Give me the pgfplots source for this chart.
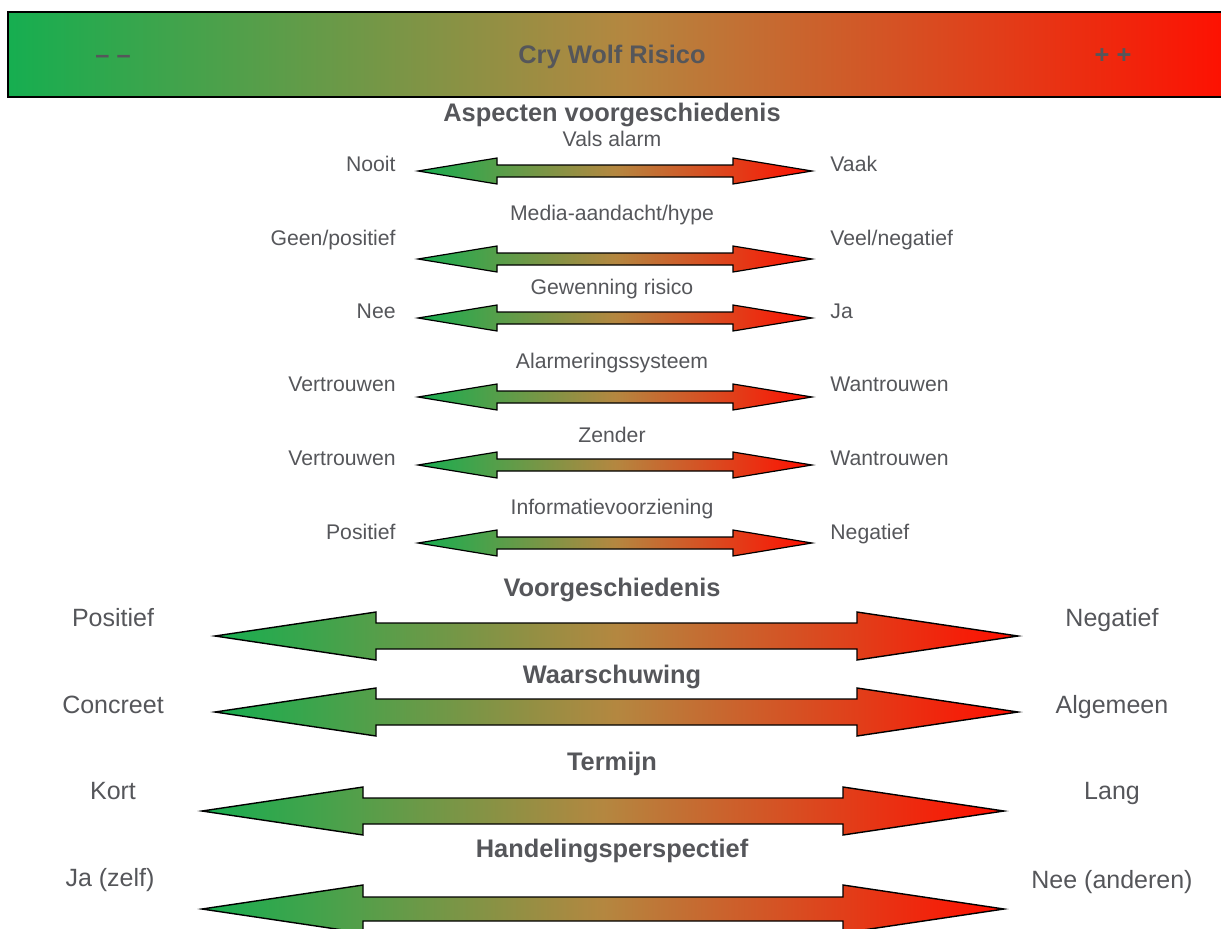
\documentclass[border=0pt]{standalone}
\usepackage{pgfplots}
\pgfplotsset{compat=1.18}
\usepackage{fontspec}
\setmainfont{Liberation Sans}
\definecolor{tg}{RGB}{85,86,90}
\definecolor{gL}{RGB}{22,174,80}
\definecolor{gM}{RGB}{180,135,64}
\definecolor{gR}{RGB}{255,14,0}
\begin{document}
\begin{tikzpicture}
\useasboundingbox (0,0) rectangle (610.5pt,464pt);
\begin{axis}[
  at={(0,0)}, anchor=south west,
  scale only axis, width=610.5pt, height=464pt,
  xmin=0, xmax=1221, ymin=0, ymax=928, y dir=reverse,
  hide axis, clip=true,
]
% banner
\addplot[draw=black, line width=1.4pt, left color=gL, right color=gR, middle color=gM, mark=none]
  coordinates {(8,12) (1240,12) (1240,97) (8,97)} -- cycle;
% small arrows: y centres
\foreach \yc in {171,259,318,397,465,543}{
\edef\temp{\noexpand\addplot[draw=black, line width=0.6pt, left color=gL, right color=gR, middle color=gM, mark=none]
  coordinates {(418,\yc) (497,\yc-13) (497,\yc-6) (733,\yc-6) (733,\yc-13) (812,\yc) (733,\yc+13) (733,\yc+6) (497,\yc+6) (497,\yc+13)} -- cycle;}
\temp
}
% big arrows
\addplot[draw=black, line width=0.7pt, left color=gL, right color=gR, middle color=gM, mark=none]
  coordinates {(215,636) (376,612) (376,623) (857,623) (857,612) (1018,636) (857,660) (857,649) (376,649) (376,660)} -- cycle;
\addplot[draw=black, line width=0.7pt, left color=gL, right color=gR, middle color=gM, mark=none]
  coordinates {(215,712) (376,688) (376,699) (857,699) (857,688) (1018,712) (857,736) (857,725) (376,725) (376,736)} -- cycle;
\addplot[draw=black, line width=0.7pt, left color=gL, right color=gR, middle color=gM, mark=none]
  coordinates {(202,811) (363,787) (363,798) (843,798) (843,787) (1004,811) (843,835) (843,824) (363,824) (363,835)} -- cycle;
\addplot[draw=black, line width=0.7pt, left color=gL, right color=gR, middle color=gM, mark=none]
  coordinates {(202,909) (363,885) (363,897) (843,897) (843,885) (1004,909) (843,933) (843,921) (363,921) (363,933)} -- cycle;
% banner text
\tikzset{hd/.style={text=tg, font=\fontsize{12.7}{14}\selectfont\bfseries, inner sep=0pt, anchor=mid}}
\node[hd] at (axis cs:113,58) {– –};
\node[hd] at (axis cs:612,58) {Cry Wolf Risico};
\node[hd] at (axis cs:1113,58) {+ +};
\node[hd] at (axis cs:612,116) {Aspecten voorgeschiedenis};
% small labels
\tikzset{sm/.style={text=tg, font=\fontsize{10.6}{12}\selectfont, inner sep=0pt}}
\node[sm, anchor=mid] at (axis cs:612,141) {Vals alarm};
\node[sm, anchor=mid east] at (axis cs:396,166) {Nooit};
\node[sm, anchor=mid west] at (axis cs:830,166) {Vaak};
\node[sm, anchor=mid] at (axis cs:612,215) {Media-aandacht/hype};
\node[sm, anchor=mid east] at (axis cs:396,240) {Geen/positief};
\node[sm, anchor=mid west] at (axis cs:830,240) {Veel/negatief};
\node[sm, anchor=mid] at (axis cs:612,289) {Gewenning risico};
\node[sm, anchor=mid east] at (axis cs:396,313) {Nee};
\node[sm, anchor=mid west] at (axis cs:830,313) {Ja};
\node[sm, anchor=mid] at (axis cs:612,363) {Alarmeringssysteem};
\node[sm, anchor=mid east] at (axis cs:396,386) {Vertrouwen};
\node[sm, anchor=mid west] at (axis cs:830,386) {Wantrouwen};
\node[sm, anchor=mid] at (axis cs:612,437) {Zender};
\node[sm, anchor=mid east] at (axis cs:396,460) {Vertrouwen};
\node[sm, anchor=mid west] at (axis cs:830,460) {Wantrouwen};
\node[sm, anchor=mid] at (axis cs:612,509) {Informatievoorziening};
\node[sm, anchor=mid east] at (axis cs:396,534) {Positief};
\node[sm, anchor=mid west] at (axis cs:830,534) {Negatief};
% big headings
\node[hd] at (axis cs:612,591) {Voorgeschiedenis};
\node[hd] at (axis cs:612,678) {Waarschuwing};
\node[hd] at (axis cs:612,765) {Termijn};
\node[hd] at (axis cs:612,852) {Handelingsperspectief};
% big labels
\tikzset{bg/.style={text=tg, font=\fontsize{12.5}{14}\selectfont, inner sep=0pt, anchor=mid}}
\node[bg] at (axis cs:113,621) {Positief};
\node[bg] at (axis cs:1112,621) {Negatief};
\node[bg] at (axis cs:113,708) {Concreet};
\node[bg] at (axis cs:1112,708) {Algemeen};
\node[bg] at (axis cs:113,794) {Kort};
\node[bg] at (axis cs:1112,794) {Lang};
\node[bg] at (axis cs:110,881) {Ja (zelf)};
\node[bg] at (axis cs:1112,883) {Nee (anderen)};
\end{axis}
\end{tikzpicture}
\end{document}
